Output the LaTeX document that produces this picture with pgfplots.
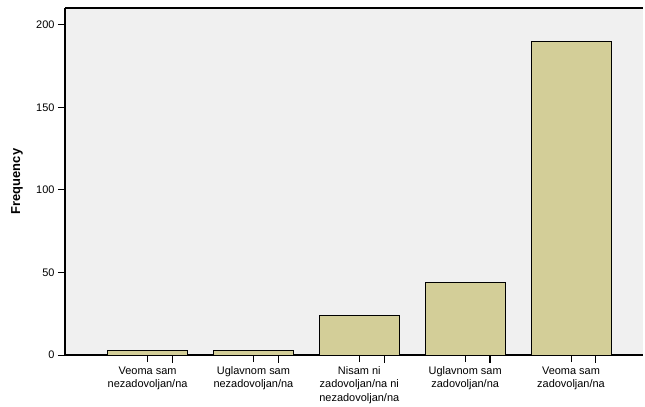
\documentclass[border=0pt]{standalone}
\usepackage{pgfplots}
\pgfplotsset{compat=1.18}
\usepackage{fontspec}
\setmainfont{Liberation Sans}
\definecolor{barfill}{HTML}{D3CE98}
\definecolor{plotbg}{HTML}{F0F0F0}

\begin{document}
\begin{tikzpicture}
\begin{axis}[
    at={(0,0)}, anchor=south west,
    scale only axis,
    width=578bp, height=347bp,
    xmin=-0.78, xmax=4.68,
    ymin=0, ymax=210.3,
    axis background/.style={fill=plotbg},
    axis line style={line width=1.1pt, -},
    axis lines*=left,
    clip=false,
    xtick={0,1,2,3,4},
    xticklabels={Veoma sam\\nezadovoljan/na, Uglavnom sam\\nezadovoljan/na,
        Nisam ni\\zadovoljan/na ni\\nezadovoljan/na, Uglavnom sam\\zadovoljan/na,
        Veoma sam\\zadovoljan/na},
    x tick label style={align=center, font=\fontsize{11}{13.5}\selectfont, yshift=-1bp},
    ytick={0,50,100,150,200},
    y tick label style={font=\fontsize{11}{13}\selectfont},
    /pgf/number format/assume math mode=true,
    tick align=outside,
    major tick length=7bp,
    major tick style={draw=black, line width=1pt},
    ylabel={\textbf{Frequency}},
    ylabel style={font=\fontsize{13}{15}\selectfont, at={(axis description cs:-0.083,0.5)}, anchor=center},
]
\addplot[ybar, bar width=80bp, fill=barfill, draw=black, line width=1pt] coordinates {
    (0,3) (1,3) (2,24) (3,44) (4,190)
};
\end{axis}
% category tick marks below the axis (x positions match axis units)
\foreach \px in {107.6,213.4,319.2,425.0,530.8} {
    \draw[line width=1.2pt, black] (\px bp,0) -- (\px bp,-7.5bp);
}
\draw[line width=1.1pt] (0,347bp) -- (578bp,347bp);
\pgfresetboundingbox
\useasboundingbox (-65bp,-52bp) rectangle (580bp,355bp);
\end{tikzpicture}
\end{document}
